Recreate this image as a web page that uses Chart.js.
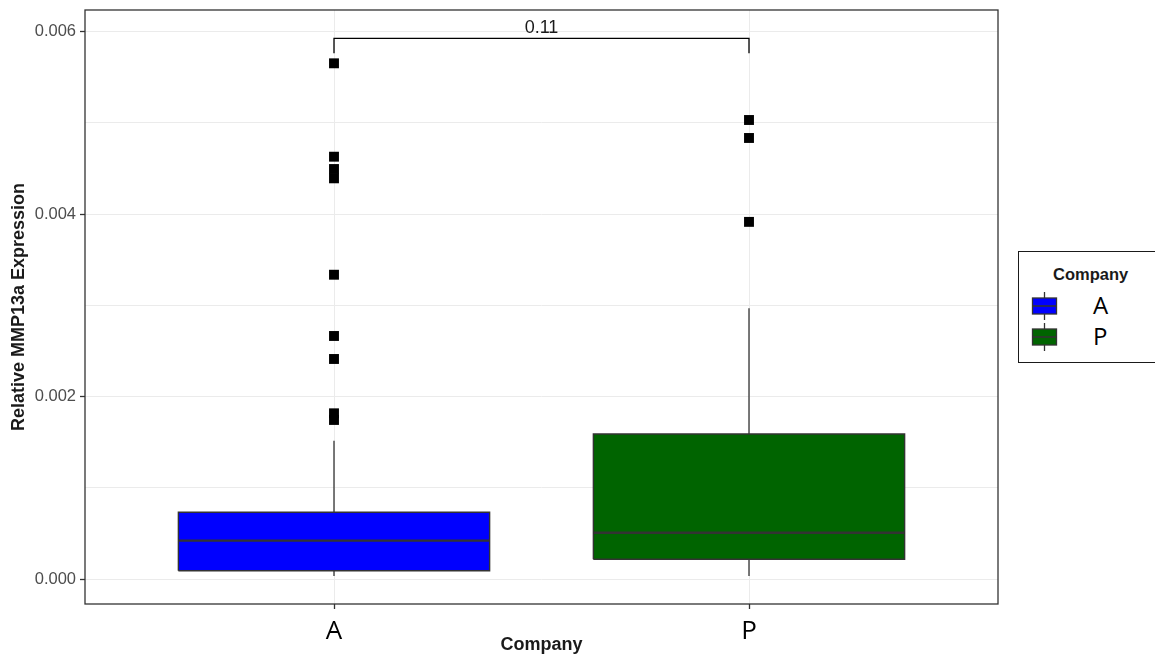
<!DOCTYPE html>
<html>
<head>
<meta charset="utf-8">
<script src="https://cdn.jsdelivr.net/npm/chart.js@4.4.1/dist/chart.umd.min.js"></script>
<style>
  html, body { margin: 0; padding: 0; background: #fff; }
  #wrap { position: relative; width: 1155px; height: 656px; }
  #legend {
    position: absolute; left: 1018px; top: 251px; width: 138px; height: 112px;
    border: 1.3px solid #1a1a1a; box-sizing: border-box; background: #fff;
    font-family: "Liberation Sans", Arial, sans-serif;
  }
  #legend .ttl { position: absolute; left: 34px; top: 13px; font-weight: bold; font-size: 16.5px; color: #1a1a1a; }
  #legend .row { position: absolute; left: 12px; height: 30px; width: 120px; }
  #legend .row svg { position: absolute; left: 0; top: 0; }
  #legend .row span { position: absolute; left: 62px; top: -2px; font-family: "Open Sans", sans-serif; font-size: 24px; color: #000; line-height: 30px; }
</style>
</head>
<body>
<div id="wrap">
  <canvas id="c" width="1155" height="656"></canvas>
  <div id="legend"></div>
</div>
<script>
// ---- data ----
const CATEGORIES = ['A', 'P'];
const FILL_COLORS = ['#0000FF', '#006400'];
const Q1 = [0.000094, 0.000219];
const MEDIAN = [0.000423, 0.000510];
const Q3 = [0.000734, 0.001591];
const WHISKER_LOW = [0.000036, 0.000036];
const WHISKER_HIGH = [0.001518, 0.002968];
const OUTLIERS_A = [0.005652, 0.004629, 0.004494, 0.004392, 0.003336, 0.002665, 0.002413, 0.001818, 0.001745];
const OUTLIERS_P = [0.005031, 0.004834, 0.003915];
const OUTLIERS = [OUTLIERS_A, OUTLIERS_P];
const Y_TICKS = [0, 0.001, 0.002, 0.003, 0.004, 0.005, 0.006];
const Y_MAJOR = [0, 0.002, 0.004, 0.006];
const P_LABEL = '0.11';
const BRACKET_Y = 0.005926;
const BRACKET_TIP = 0.005761;
const LEGEND_TITLE = 'Company';
const AXIS_X_TITLE = 'Company';
const AXIS_Y_TITLE = 'Relative MMP13a Expression';

// ---- styling constants ----
const HALF = 0.375;
const LINE = '#333333';

const datasets = [];
CATEGORIES.forEach((cat, i) => {
  const x = i + 1;
  datasets.push({ type: 'line', data: [{x: x - HALF, y: Q3[i]}, {x: x + HALF, y: Q3[i]}],
    fill: {value: Q1[i]}, backgroundColor: FILL_COLORS[i], borderWidth: 0, borderColor: 'rgba(0,0,0,0)',
    pointRadius: 0, order: 10 });
  datasets.push({ type: 'line', data: [
      {x: x - HALF, y: Q1[i]}, {x: x + HALF, y: Q1[i]}, {x: x + HALF, y: Q3[i]},
      {x: x - HALF, y: Q3[i]}, {x: x - HALF, y: Q1[i]}],
    fill: false, borderColor: LINE, borderWidth: 1.4, pointRadius: 0, tension: 0, order: 5 });
  datasets.push({ type: 'line', data: [{x: x - HALF, y: MEDIAN[i]}, {x: x + HALF, y: MEDIAN[i]}],
    fill: false, borderColor: LINE, borderWidth: 2.4, pointRadius: 0, order: 4 });
  datasets.push({ type: 'line', data: [{x: x, y: Q3[i]}, {x: x, y: WHISKER_HIGH[i]}],
    fill: false, borderColor: LINE, borderWidth: 1.3, pointRadius: 0, order: 5 });
  datasets.push({ type: 'line', data: [{x: x, y: Q1[i]}, {x: x, y: WHISKER_LOW[i]}],
    fill: false, borderColor: LINE, borderWidth: 1.3, pointRadius: 0, order: 5 });
  datasets.push({ type: 'scatter', data: OUTLIERS[i].map(v => ({x: x, y: v})),
    pointStyle: 'rect', pointRadius: 7, backgroundColor: '#000', borderColor: '#000', borderWidth: 0, order: 1 });
});
datasets.push({ type: 'line', data: [{x: 1, y: BRACKET_TIP}, {x: 1, y: BRACKET_Y}, {x: 2, y: BRACKET_Y}, {x: 2, y: BRACKET_TIP}],
  fill: false, borderColor: '#000', borderWidth: 1.3, pointRadius: 0, tension: 0, order: 1 });

const panelPlugin = {
  id: 'panel',
  afterDraw(chart) {
    const {ctx, chartArea: a, scales} = chart;
    ctx.save();
    ctx.strokeStyle = LINE;
    ctx.lineWidth = 1.3;
    ctx.strokeRect(a.left, a.top, a.right - a.left, a.bottom - a.top);
    const px = scales.x.getPixelForValue(1.5);
    const py = scales.y.getPixelForValue(BRACKET_Y);
    ctx.fillStyle = '#1a1a1a';
    ctx.font = '18px "Liberation Sans", Arial, sans-serif';
    ctx.textAlign = 'center';
    ctx.textBaseline = 'alphabetic';
    ctx.fillText(P_LABEL, px, py - 5);
    ctx.restore();
  }
};

new Chart(document.getElementById('c'), {
  type: 'scatter',
  data: { datasets },
  options: {
    responsive: false,
    animation: false,
    layout: { padding: { top: 10, right: 157, left: 0, bottom: 0 } },
    plugins: { legend: { display: false }, tooltip: { enabled: false } },
    scales: {
      x: {
        type: 'linear', min: 0.4, max: 2.6, offset: false,
        afterBuildTicks: s => { s.ticks = CATEGORIES.map((c, i) => ({value: i + 1})); },
        afterFit: s => { s.height = 52; s.paddingLeft = 0; s.paddingRight = 0; },
        ticks: { callback: v => CATEGORIES[v - 1], color: '#000', padding: 7,
          font: { family: '"Open Sans", sans-serif', size: 26 } },
        grid: { color: '#ebebeb', lineWidth: 1, tickLength: 5, tickColor: LINE, tickWidth: 1.3 },
        border: { display: false },
        title: { display: true, text: AXIS_X_TITLE, color: '#1a1a1a', padding: {top: 0, bottom: 0},
          font: { family: '"Liberation Sans", Arial, sans-serif', size: 18, weight: 'bold' } }
      },
      y: {
        type: 'linear', min: -0.000271, max: 0.006236,
        afterBuildTicks: s => { s.ticks = Y_TICKS.map(v => ({value: v})); },
        afterFit: s => { s.width = 85; s.paddingTop = 0; s.paddingBottom = 0; },
        ticks: {
          callback: v => Y_MAJOR.some(m => Math.abs(m - v) < 1e-9) ? v.toFixed(3) : '',
          color: '#4d4d4d', padding: 4,
          font: { family: '"Liberation Sans", Arial, sans-serif', size: 16.5 }
        },
        grid: {
          color: '#ebebeb', lineWidth: 1, tickLength: 5, tickWidth: 1.3,
          tickColor: c => (c.tick && Y_MAJOR.some(m => Math.abs(m - c.tick.value) < 1e-9)) ? LINE : 'rgba(0,0,0,0)'
        },
        border: { display: false },
        title: { display: true, text: AXIS_Y_TITLE, color: '#1a1a1a', padding: {top: 8, bottom: 0},
          font: { family: '"Liberation Sans", Arial, sans-serif', size: 18, weight: 'bold' } }
      }
    }
  },
  plugins: [panelPlugin]
});

// ---- HTML legend ----
const legend = document.getElementById('legend');
const ttl = document.createElement('div');
ttl.className = 'ttl';
ttl.textContent = LEGEND_TITLE;
legend.appendChild(ttl);
CATEGORIES.forEach((cat, i) => {
  const row = document.createElement('div');
  row.className = 'row';
  row.style.top = (40 + i * 31) + 'px';
  row.innerHTML =
    '<svg width="28" height="30" viewBox="0 0 28 30">' +
    '<line x1="13.5" y1="0" x2="13.5" y2="28" stroke="#333" stroke-width="1.3"/>' +
    '<rect x="1.5" y="6" width="24" height="16" fill="' + FILL_COLORS[i] + '" stroke="#333" stroke-width="1.3"/>' +
    '<line x1="1.5" y1="14" x2="25.5" y2="14" stroke="#333" stroke-width="1.6"/>' +
    '</svg>';
  const sp = document.createElement('span');
  sp.textContent = cat;
  row.appendChild(sp);
  legend.appendChild(row);
});
</script>
</body>
</html>
